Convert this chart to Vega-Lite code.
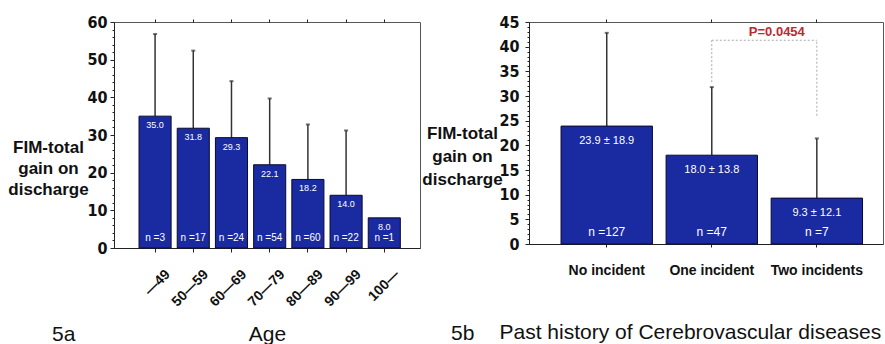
{
  "$schema": "https://vega.github.io/schema/vega-lite/v6.json",
  "background": "white",
  "padding": {"left": 7, "top": 13, "right": 0, "bottom": 0},
  "spacing": 0,
  "config": {
    "view": {"stroke": "#555", "strokeWidth": 1},
    "font": "Liberation Sans",
    "axis": {"grid": false, "domainColor": "#222", "tickColor": "#222", "labelColor": "#111", "titleColor": "#111", "labelOverlap": false}
  },
  "datasets": {
    "left": [
      {"age": "—49", "mean": 35.0, "upper": 56.8, "label": "35.0", "n": "n =3"},
      {"age": "50—59", "mean": 31.8, "upper": 52.4, "label": "31.8", "n": "n =17"},
      {"age": "60—69", "mean": 29.3, "upper": 44.3, "label": "29.3", "n": "n =24"},
      {"age": "70—79", "mean": 22.1, "upper": 39.7, "label": "22.1", "n": "n =54"},
      {"age": "80—89", "mean": 18.2, "upper": 32.8, "label": "18.2", "n": "n =60"},
      {"age": "90—99", "mean": 14.0, "upper": 31.2, "label": "14.0", "n": "n =22"},
      {"age": "100—", "mean": 8.0, "upper": null, "label": "8.0", "n": "n =1"}
    ],
    "main": [
      {"history": "No incident", "mean": 23.9, "upper": 42.8, "label": "23.9 ± 18.9", "n": "n =127"},
      {"history": "One incident", "mean": 18.0, "upper": 31.8, "label": "18.0 ± 13.8", "n": "n =47"},
      {"history": "Two incidents", "mean": 9.3, "upper": 21.4, "label": "9.3 ± 12.1", "n": "n =7"}
    ],
    "bracketH": [{"from": "One incident", "to": "Two incidents", "y": 41.3, "p": "P=0.0454"}],
    "bracketV": [
      {"history": "One incident", "y1": 32.8, "y2": 41.3},
      {"history": "Two incidents", "y1": 26.0, "y2": 41.3}
    ]
  },
  "hconcat": [
    {
      "width": 306,
      "height": 226,
      "title": {"text": "5a", "orient": "bottom", "anchor": "start", "frame": "group", "dx": -62, "dy": -7, "fontSize": 21, "fontWeight": "normal", "color": "#111", "baseline": "alphabetic"},
      "data": {"name": "left"},
      "resolve": {"axis": {"x": "independent", "y": "independent"}},
      "layer": [
        {
          "mark": {"type": "rule", "color": "#333", "strokeWidth": 1.5},
          "encoding": {
            "x": {"field": "age", "type": "nominal", "sort": null, "axis": null,
                  "scale": {"paddingInner": 0.16, "paddingOuter": 0.585, "align": 0.56}},
            "y": {"field": "mean", "type": "quantitative", "scale": {"domain": [0, 60], "nice": false},
                  "axis": {"title": ["FIM-total", "gain on", "discharge"], "titleAngle": 0, "titleAlign": "center",
                           "titleBaseline": "alphabetic", "titleX": -66, "titleY": 130, "titleLineHeight": 21,
                           "titleFontSize": 17, "titleFontWeight": "bold",
                           "values": [0,2,4,6,8,10,12,14,16,18,20,22,24,26,28,30,32,34,36,38,40,42,44,46,48,50,52,54,56,58,60],
                           "labelExpr": "datum.value % 10 === 0 ? datum.label : ''",
                           "labelOverlap": false,
                           "tickSize": {"condition": {"test": "datum.value % 10 === 0", "value": 4}, "value": 2},
                           "labelPadding": 3, "labelFont": "Liberation Sans Narrow, DejaVu Sans Condensed, Liberation Sans, sans-serif",
                           "labelFontSize": 16, "labelFontWeight": "bold"}},
            "y2": {"field": "upper"}
          }
        },
        {
          "mark": {"type": "tick", "orient": "horizontal", "color": "#333", "size": 4, "thickness": 2},
          "encoding": {
            "x": {"field": "age", "type": "nominal", "sort": null, "axis": null},
            "y": {"field": "upper", "type": "quantitative", "axis": null}
          }
        },
        {
          "mark": {"type": "bar", "fill": "#1a2aa0", "stroke": "#0a0a30", "strokeWidth": 1},
          "encoding": {
            "x": {"field": "age", "type": "nominal", "sort": null,
                  "axis": {"title": "Age", "titleFontSize": 21, "titleFontWeight": "normal", "titleBaseline": "alphabetic", "titleY": 92,
                           "labelAngle": -45, "labelFontSize": 14, "labelFontWeight": "bold", "labelOffset": 8,
                           "labelPadding": 15, "tickSize": 4}},
            "y": {"field": "mean", "type": "quantitative", "axis": null}
          }
        },
        {
          "mark": {"type": "text", "color": "white", "fontSize": 9, "baseline": "middle", "dy": 9},
          "encoding": {
            "x": {"field": "age", "type": "nominal", "sort": null,
                  "axis": {"orient": "top", "labels": false, "domain": false, "tickSize": 3, "title": null}},
            "y": {"field": "mean", "type": "quantitative", "axis": null},
            "text": {"field": "label"}
          }
        },
        {
          "mark": {"type": "text", "color": "white", "fontSize": 10, "baseline": "middle", "dy": -10},
          "encoding": {
            "x": {"field": "age", "type": "nominal", "sort": null, "axis": null},
            "y": {"datum": 0, "type": "quantitative", "axis": null},
            "text": {"field": "n"}
          }
        }
      ]
    },
    {
      "width": 354,
      "height": 222,
      "title": {"text": "5b", "orient": "bottom", "anchor": "start", "frame": "group", "dx": -78, "dy": -6, "fontSize": 21, "fontWeight": "normal", "color": "#111", "baseline": "alphabetic"},
      "resolve": {"axis": {"x": "independent", "y": "independent"}},
      "layer": [
        {
          "data": {"name": "main"},
          "mark": {"type": "rule", "color": "#333", "strokeWidth": 1.5},
          "encoding": {
            "x": {"field": "history", "type": "nominal", "sort": null, "axis": null,
                  "scale": {"domain": ["No incident", "One incident", "Two incidents"], "paddingInner": 0.13, "paddingOuter": 0.25, "align": 0.61}},
            "y": {"field": "mean", "type": "quantitative", "scale": {"domain": [0, 45], "nice": false},
                  "axis": {"title": ["FIM-total", "gain on", "discharge"], "titleAngle": 0, "titleAlign": "center",
                           "titleBaseline": "alphabetic", "titleX": -67, "titleY": 116, "titleLineHeight": 23,
                           "titleFontSize": 17, "titleFontWeight": "bold",
                           "values": [0,1,2,3,4,5,6,7,8,9,10,11,12,13,14,15,16,17,18,19,20,21,22,23,24,25,26,27,28,29,30,31,32,33,34,35,36,37,38,39,40,41,42,43,44,45],
                           "labelExpr": "datum.value % 5 === 0 ? datum.label : ''",
                           "labelOverlap": false,
                           "tickSize": {"condition": {"test": "datum.value % 5 === 0", "value": 4}, "value": 2},
                           "labelPadding": 6, "labelFont": "Liberation Sans Narrow, DejaVu Sans Condensed, Liberation Sans, sans-serif",
                           "labelFontSize": 16, "labelFontWeight": "bold"}},
            "y2": {"field": "upper"}
          }
        },
        {
          "data": {"name": "main"},
          "mark": {"type": "tick", "orient": "horizontal", "color": "#333", "size": 4, "thickness": 2},
          "encoding": {
            "x": {"field": "history", "type": "nominal", "sort": null, "axis": null},
            "y": {"field": "upper", "type": "quantitative", "axis": null}
          }
        },
        {
          "data": {"name": "main"},
          "mark": {"type": "bar", "fill": "#1a2aa0", "stroke": "#0a0a30", "strokeWidth": 1},
          "encoding": {
            "x": {"field": "history", "type": "nominal", "sort": null,
                  "axis": {"title": "Past history of Cerebrovascular diseases", "titleFontSize": 21, "titleFontWeight": "normal",
                           "titleBaseline": "alphabetic", "titleY": 94, "titleX": -30, "titleAlign": "left",
                           "labelAngle": 0, "labelFontSize": 14, "labelFontWeight": "bold", "labelPadding": 16, "tickSize": 3}},
            "y": {"field": "mean", "type": "quantitative", "axis": null}
          }
        },
        {
          "data": {"name": "main"},
          "mark": {"type": "text", "color": "white", "fontSize": 11, "baseline": "middle", "dy": 15},
          "encoding": {
            "x": {"field": "history", "type": "nominal", "sort": null,
                  "axis": {"orient": "top", "labels": false, "domain": false, "tickSize": 3, "title": null}},
            "y": {"field": "mean", "type": "quantitative", "axis": null},
            "text": {"field": "label"}
          }
        },
        {
          "data": {"name": "main"},
          "mark": {"type": "text", "color": "white", "fontSize": 12, "baseline": "middle", "dy": -12},
          "encoding": {
            "x": {"field": "history", "type": "nominal", "sort": null, "axis": null},
            "y": {"datum": 0, "type": "quantitative", "axis": null},
            "text": {"field": "n"}
          }
        },
        {
          "data": {"name": "bracketH"},
          "mark": {"type": "rule", "color": "#aaa", "strokeWidth": 1, "strokeDash": [2, 2]},
          "encoding": {
            "x": {"field": "from", "type": "nominal", "axis": null},
            "x2": {"field": "to"},
            "y": {"field": "y", "type": "quantitative", "axis": null}
          }
        },
        {
          "data": {"name": "bracketV"},
          "mark": {"type": "rule", "color": "#aaa", "strokeWidth": 1, "strokeDash": [2, 2]},
          "encoding": {
            "x": {"field": "history", "type": "nominal", "axis": null},
            "y": {"field": "y1", "type": "quantitative", "axis": null},
            "y2": {"field": "y2"}
          }
        },
        {
          "data": {"name": "bracketH"},
          "mark": {"type": "text", "color": "#c0282d", "fontSize": 13, "fontWeight": "bold", "baseline": "middle", "dx": -40, "dy": -8},
          "encoding": {
            "x": {"field": "to", "type": "nominal", "axis": null},
            "y": {"field": "y", "type": "quantitative", "axis": null},
            "text": {"field": "p"}
          }
        }
      ]
    }
  ]
}
